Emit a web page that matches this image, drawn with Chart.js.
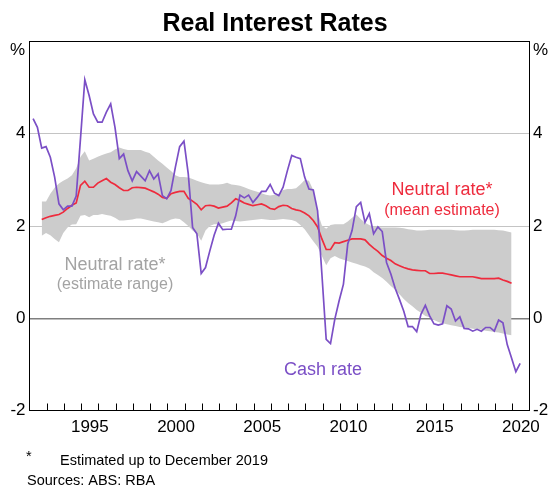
<!DOCTYPE html>
<html>
<head>
<meta charset="utf-8">
<script src="https://cdn.jsdelivr.net/npm/chart.js@4.4.1/dist/chart.umd.min.js"></script>
<style>
  html, body { margin: 0; padding: 0; background: #fff; }
  canvas { display: block; }
</style>
</head>
<body>
<canvas id="rateChart" width="550" height="486"></canvas>
<script>
// quarterly series, first quarter given as [year, quarter]
const cashStart = [1992, 1];
const neutralStart = [1992, 3];
const yearLabels = [1995, 2000, 2005, 2010, 2015, 2020];

const cashRate = [
  4.33, 4.14, 3.69, 3.72, 3.49, 3.06, 2.48, 2.35, 2.43, 2.43,
  2.65, 3.9, 5.17, 4.83, 4.43, 4.25, 4.25, 4.47, 4.65, 4.14,
  3.46, 3.56, 3.2, 2.98, 3.18, 3.08, 2.98, 3.2, 3.02, 3.13,
  2.66, 2.59, 2.77, 3.27, 3.72, 3.84, 3.13, 1.97, 1.83, 0.97,
  1.1, 1.46, 1.8, 2.06, 1.92, 1.93, 1.93, 2.22, 2.67, 2.61,
  2.67, 2.51, 2.62, 2.75, 2.75, 2.9, 2.71, 2.66, 2.84, 3.2,
  3.53, 3.49, 3.46, 3.06, 2.8, 2.78, 2.33, 0.96, -0.46, -0.55,
  -0.02, 0.38, 0.74, 1.61, 1.9, 2.42, 2.51, 2.08, 2.27, 1.83,
  1.98, 1.88, 1.21, 0.96, 0.65, 0.41, 0.15, -0.18, -0.18, -0.29,
  0.09, 0.28, 0.05, -0.12, -0.15, -0.12, 0.27, 0.2, -0.06, 0.03,
  -0.22, -0.23, -0.28, -0.24, -0.28, -0.2, -0.2, -0.28, -0.04, -0.1,
  -0.57, -0.86, -1.16, -0.98
];

const neutralMean = [
  2.14, 2.18, 2.21, 2.23, 2.25, 2.3, 2.38, 2.45, 2.5, 2.88,
  2.97, 2.84, 2.84, 2.93, 2.98, 3.03, 2.95, 2.9, 2.83, 2.77,
  2.77, 2.83, 2.84, 2.83, 2.82, 2.78, 2.74, 2.69, 2.62, 2.6,
  2.7, 2.73, 2.75, 2.75, 2.6, 2.54, 2.47, 2.35, 2.44, 2.45,
  2.43, 2.39, 2.41, 2.43, 2.5, 2.59, 2.55, 2.5, 2.47, 2.44,
  2.46, 2.48, 2.44, 2.38, 2.36, 2.42, 2.45, 2.44, 2.38, 2.35,
  2.33, 2.28, 2.22, 2.12, 1.98, 1.72, 1.49, 1.49, 1.64, 1.63,
  1.66, 1.69, 1.72, 1.72, 1.72, 1.7, 1.6, 1.52, 1.45, 1.36,
  1.3, 1.25, 1.18, 1.14, 1.1, 1.07, 1.05, 1.04, 1.03, 1.03,
  0.97, 0.97, 0.98, 0.98, 0.96, 0.94, 0.92, 0.9, 0.9, 0.9,
  0.9, 0.88, 0.86, 0.86, 0.86, 0.86, 0.87, 0.83, 0.8, 0.76
];

const neutralHigh = [
  2.53, 2.53, 2.7, 2.83, 2.92, 2.98, 3.03, 3.1, 3.25, 3.5,
  3.62, 3.42, 3.46, 3.5, 3.54, 3.57, 3.6, 3.66, 3.7, 3.67,
  3.65, 3.65, 3.65, 3.65, 3.61, 3.58, 3.5, 3.42, 3.35, 3.27,
  3.19, 3.1, 3.06, 3.06, 3.05, 3.02, 2.98, 2.95, 2.92, 2.9,
  2.9, 2.9, 2.91, 2.94, 2.9, 2.89, 2.87, 2.84, 2.8, 2.77,
  2.74, 2.71, 2.68, 2.66, 2.68, 2.7, 2.78, 2.8, 2.8, 2.82,
  2.9, 3.0, 2.98, 2.78, 2.3, 2.01, 1.94, 2.02, 2.04, 2.04,
  2.04, 2.1, 2.18, 2.25, 2.15, 2.07, 2.02, 1.98, 1.98, 1.97,
  1.97, 1.97, 1.97, 1.96, 1.95, 1.93, 1.92, 1.9, 1.9, 1.91,
  1.92, 1.92, 1.92, 1.92, 1.92, 1.92, 1.91, 1.9, 1.9, 1.91,
  1.92, 1.92, 1.92, 1.92, 1.92, 1.92, 1.91, 1.9, 1.88, 1.86
];

const neutralLow = [
  1.79, 1.85, 1.8, 1.72, 1.65, 1.85, 1.97, 2.03, 2.04, 2.22,
  2.24, 2.19, 2.24, 2.24, 2.26, 2.24, 2.22, 2.18, 2.12, 2.12,
  2.13, 2.14, 2.16, 2.16, 2.14, 2.12, 2.1, 2.08, 2.06, 2.1,
  2.14, 2.16, 2.15, 2.08, 2.0, 1.9, 1.83, 1.68, 1.9, 2.0,
  2.04, 2.04, 2.06, 2.09, 2.12, 2.11, 2.1, 2.11, 2.12, 2.13,
  2.14, 2.15, 2.14, 2.13, 2.13, 2.14, 2.15, 2.14, 2.13, 2.1,
  2.02, 1.93, 1.8, 1.67, 1.55, 1.35, 1.15, 1.3, 1.35, 1.3,
  1.27, 1.24, 1.21, 1.18, 1.15, 1.12, 1.08, 1.0, 0.94, 0.87,
  0.79, 0.7, 0.62, 0.52, 0.42, 0.33, 0.26, 0.18, 0.12, 0.05,
  0.02, -0.04, -0.08, -0.11, -0.13, -0.15, -0.17, -0.19, -0.2, -0.21,
  -0.23, -0.24, -0.25, -0.27, -0.28, -0.3, -0.31, -0.33, -0.35, -0.37
];

const RED = '#ee2b3d';
const PURPLE = '#7b4fc6';
const BAND = '#cccccc';
const FONT = 'Arial, "Liberation Sans", sans-serif';

// values are plotted at the middle of the last month of each quarter
function toPoints(start, values) {
  return values.map((v, i) => {
    const q = start[1] - 1 + i;
    const year = start[0] + Math.floor(q / 4);
    const month = (q % 4) * 3 + 3;
    return { x: year + (month - 0.5) / 12, y: v };
  });
}

const decor = {
  id: 'decor',
  afterDraw(chart) {
    const { ctx, chartArea: a, scales } = chart;
    ctx.save();
    ctx.strokeStyle = '#000';
    ctx.lineWidth = 1;
    ctx.beginPath();
    ctx.moveTo(a.left, a.top);
    ctx.lineTo(a.right, a.top);
    for (let yr = 1993; yr <= 2020; yr++) {
      const px = Math.round(scales.x.getPixelForValue(yr)) + 0.5;
      ctx.moveTo(px, a.bottom);
      ctx.lineTo(px, a.bottom - 7);
    }
    ctx.stroke();

    ctx.fillStyle = '#000';
    ctx.font = 'bold 25px ' + FONT;
    ctx.textAlign = 'center';
    ctx.textBaseline = 'alphabetic';
    ctx.fillText('Real Interest Rates', 275, 31);

    ctx.font = '17px ' + FONT;
    ctx.textBaseline = 'middle';
    ctx.textAlign = 'right';
    ctx.fillText('%', 25, 50);
    ctx.textAlign = 'left';
    ctx.fillText('%', 533, 50);

    ctx.textAlign = 'center';
    ctx.fillStyle = RED;
    ctx.font = '18px ' + FONT;
    ctx.fillText('Neutral rate*', 442, 190);
    ctx.font = '16px ' + FONT;
    ctx.fillText('(mean estimate)', 442, 211);

    ctx.fillStyle = '#a3a3a3';
    ctx.font = '18px ' + FONT;
    ctx.fillText('Neutral rate*', 115, 265);
    ctx.font = '16px ' + FONT;
    ctx.fillText('(estimate range)', 115, 285);

    ctx.fillStyle = PURPLE;
    ctx.font = '18px ' + FONT;
    ctx.fillText('Cash rate', 323, 370);

    ctx.fillStyle = '#000';
    ctx.textAlign = 'left';
    ctx.textBaseline = 'alphabetic';
    ctx.font = '14.5px ' + FONT;
    ctx.fillText('*', 26, 461);
    ctx.fillText('Estimated up to December 2019', 60, 465);
    ctx.fillText('Sources: ABS: RBA', 27, 485);
    ctx.restore();
  }
};

const gridColor = (c) => {
  const v = c.tick.value;
  if (v === 0) return '#7f7f7f';
  if (v === 2 || v === 4) return '#c4c4c4';
  return 'rgba(0,0,0,0)';
};

const yTicks = {
  stepSize: 2,
  color: '#000',
  font: { size: 17, family: FONT },
  callback: (v) => (v === 6 ? '' : v)
};

new Chart(document.getElementById('rateChart'), {
  type: 'line',
  data: {
    datasets: [
      {
        label: 'Cash rate',
        data: toPoints(cashStart, cashRate),
        borderColor: PURPLE,
        borderWidth: 1.7,
        pointRadius: 0,
        tension: 0,
        fill: false
      },
      {
        label: 'Neutral rate (mean estimate)',
        data: toPoints(neutralStart, neutralMean),
        borderColor: RED,
        borderWidth: 1.7,
        pointRadius: 0,
        tension: 0,
        fill: false
      },
      {
        label: 'Upper',
        data: toPoints(neutralStart, neutralHigh),
        borderWidth: 0,
        borderColor: BAND,
        backgroundColor: BAND,
        pointRadius: 0,
        fill: '+1'
      },
      {
        label: 'Lower',
        data: toPoints(neutralStart, neutralLow),
        borderWidth: 0,
        borderColor: BAND,
        backgroundColor: BAND,
        pointRadius: 0,
        fill: false
      }
    ]
  },
  options: {
    responsive: false,
    animation: false,
    devicePixelRatio: 1,
    layout: { padding: { top: 41.5, bottom: 45.5, left: 0, right: 0 } },
    plugins: {
      legend: { display: false },
      tooltip: { enabled: false },
      title: { display: false }
    },
    scales: {
      x: {
        type: 'linear',
        min: 1992,
        max: 2021,
        afterBuildTicks: (s) => { s.ticks = yearLabels.map((y) => ({ value: y + 0.5 })); },
        afterFit: (s) => { s.height = 30; },
        ticks: {
          autoSkip: false,
          maxRotation: 0,
          padding: 7,
          color: '#000',
          font: { size: 17, family: FONT },
          callback: (v) => String(Math.floor(v))
        },
        grid: { display: false, drawTicks: false },
        border: { display: true, color: '#000', width: 1 }
      },
      y: {
        position: 'left',
        min: -2,
        max: 6,
        afterFit: (s) => { s.width = 29.5; },
        ticks: Object.assign({ padding: 4 }, yTicks),
        grid: {
          drawTicks: false,
          color: gridColor,
          lineWidth: (c) => (c.tick.value === 0 ? 1.5 : 1)
        },
        border: { display: true, color: '#000', width: 1 }
      },
      y2: {
        position: 'right',
        min: -2,
        max: 6,
        afterFit: (s) => { s.width = 20.5; },
        ticks: Object.assign({ padding: 3.5 }, yTicks),
        grid: { display: false, drawTicks: false },
        border: { display: true, color: '#000', width: 1 }
      }
    }
  },
  plugins: [decor]
});
</script>
</body>
</html>
